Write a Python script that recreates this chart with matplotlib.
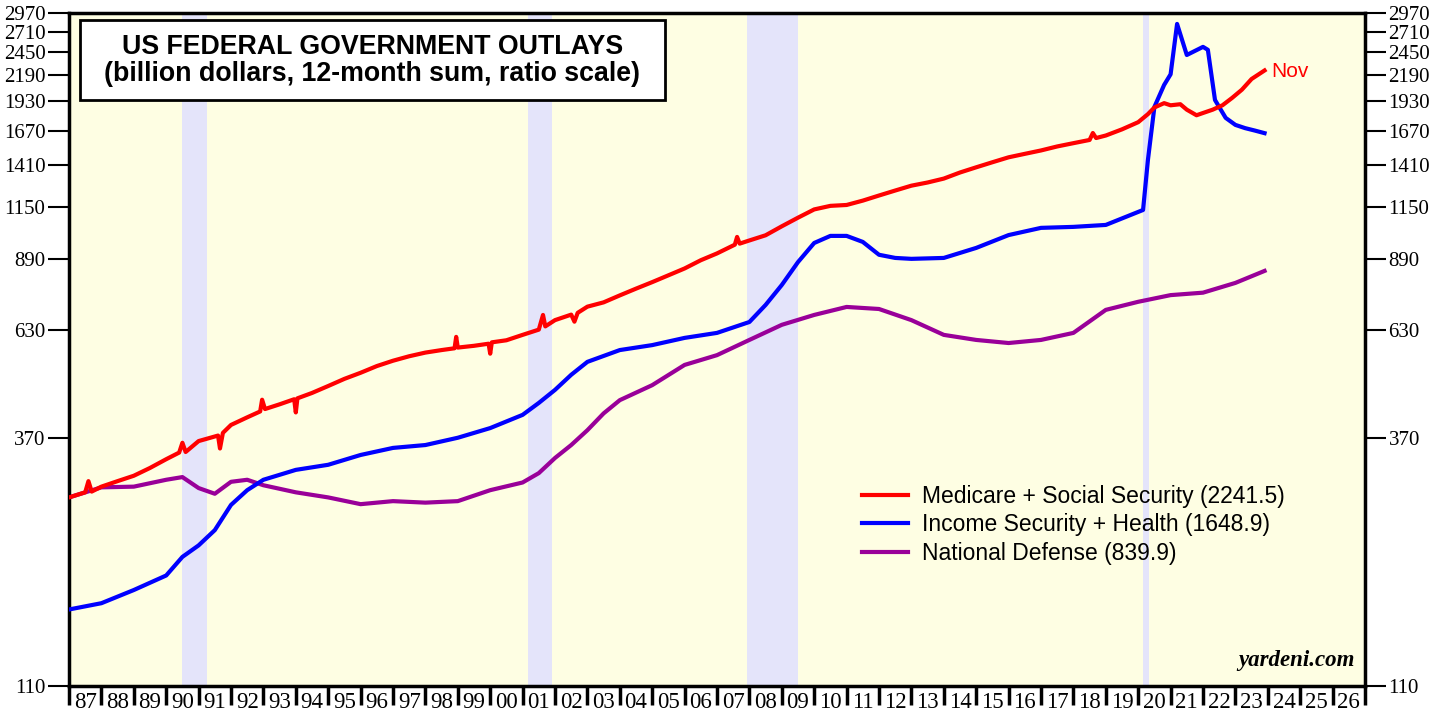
# US federal government outlays, ratio scale (yardeni style)

import matplotlib
matplotlib.use("Agg")
import matplotlib.pyplot as plt
import matplotlib.ticker as mticker
from matplotlib.patches import Rectangle

# --- data (billion dollars, 12-month sum) ---
red_x = [1987.0, 1987.5, 1987.6, 1987.7, 1988.0, 1988.5, 1989.0, 1989.5, 1990.0, 1990.4,
         1990.5, 1990.6, 1991.0, 1991.6, 1991.66, 1991.75, 1992.0, 1992.5, 1992.9, 1992.96,
         1993.05, 1993.5, 1993.95, 1994.0, 1994.05, 1994.5, 1995.0, 1995.5, 1996.0, 1996.5,
         1997.0, 1997.5, 1998.0, 1998.5, 1998.9, 1998.95, 1999.0, 1999.5, 1999.95, 2000.0,
         2000.05, 2000.5, 2001.0, 2001.5, 2001.63, 2001.7, 2002.0, 2002.5, 2002.6, 2002.7,
         2003.0, 2003.5, 2004.0, 2004.5, 2005.0, 2005.5, 2006.0, 2006.5, 2007.0, 2007.55,
         2007.62, 2007.7, 2008.0, 2008.5, 2009.0, 2009.5, 2010.0, 2010.5, 2011.0, 2011.5,
         2012.0, 2012.5, 2013.0, 2013.5, 2014.0, 2014.5, 2015.0, 2015.5, 2016.0, 2016.5,
         2017.0, 2017.5, 2018.0, 2018.5, 2018.6, 2018.7, 2019.0, 2019.5, 2020.0, 2020.3,
         2020.5, 2020.8, 2021.0, 2021.3, 2021.5, 2021.8, 2022.0, 2022.3, 2022.6, 2022.9,
         2023.2, 2023.5, 2023.9]
red_y = [277, 284, 300, 285, 292, 300, 308, 320, 334, 345,
         362, 346, 365, 375, 352, 380, 395, 410, 422, 447,
         427, 437, 448, 420, 450, 462, 478, 495, 510, 527,
         541, 553, 563, 570, 575, 608, 577, 582, 588, 560,
         592, 598, 614, 630, 677, 640, 660, 678, 655, 684,
         705, 720, 745, 770, 795, 822, 850, 885, 915, 955,
         992, 960, 975, 1000, 1045, 1090, 1135, 1155, 1160, 1185,
         1215, 1245, 1275, 1295, 1320, 1360, 1395, 1430, 1465, 1490,
         1515, 1545, 1570, 1595, 1650, 1610, 1630, 1680, 1740, 1810,
         1870, 1910, 1890, 1900, 1850, 1800, 1820, 1850, 1890, 1960,
         2040, 2150, 2241.5]

blue_x = [1987.0, 1988.0, 1989.0, 1990.0, 1990.5, 1991.0, 1991.5, 1992.0, 1992.5, 1993.0,
          1994.0, 1995.0, 1996.0, 1997.0, 1998.0, 1999.0, 2000.0, 2001.0, 2001.5, 2002.0,
          2002.5, 2003.0, 2004.0, 2005.0, 2006.0, 2007.0, 2008.0, 2008.5, 2009.0, 2009.5,
          2010.0, 2010.5, 2011.0, 2011.5, 2012.0, 2012.5, 2013.0, 2014.0, 2015.0, 2016.0,
          2017.0, 2018.0, 2019.0, 2020.15, 2020.3, 2020.5, 2020.8, 2021.0, 2021.2, 2021.5,
          2022.0, 2022.15, 2022.37, 2022.7, 2023.0, 2023.3, 2023.6, 2023.9]
blue_y = [160, 165, 176, 189, 207, 219, 236, 267, 287, 302,
          317, 325, 341, 353, 358, 371, 389, 415, 440, 469,
          505, 538, 570, 584, 605, 620, 654, 711, 784, 877,
          963, 997, 997, 968, 909, 895, 891, 895, 940, 1001,
          1037, 1042, 1052, 1132, 1446, 1875, 2088, 2200, 2815, 2418,
          2516, 2480, 1940, 1777, 1717, 1690, 1670, 1648.9]

purple_x = [1987.0, 1988.0, 1989.0, 1990.0, 1990.5, 1991.0, 1991.5, 1992.0, 1992.5, 1993.0,
            1994.0, 1995.0, 1996.0, 1997.0, 1998.0, 1999.0, 2000.0, 2001.0, 2001.5, 2002.0,
            2002.5, 2003.0, 2003.5, 2004.0, 2005.0, 2006.0, 2007.0, 2008.0, 2009.0, 2010.0,
            2011.0, 2012.0, 2013.0, 2014.0, 2015.0, 2016.0, 2017.0, 2018.0, 2019.0, 2020.0,
            2021.0, 2022.0, 2023.0, 2023.9]
purple_y = [277, 291, 292, 302, 306, 290, 282, 299, 302, 294,
            284, 277, 268, 272, 270, 272, 287, 298, 312, 336,
            358, 385, 418, 446, 480, 530, 556, 599, 645, 677,
            704, 697, 660, 614, 599, 590, 599, 620, 694, 722,
            746, 755, 792, 839.9]

series_names = ["Medicare + Social Security (2241.5)",
                "Income Security + Health (1648.9)",
                "National Defense (839.9)"]

recessions = [(1990.5, 1991.25), (2001.17, 2001.92), (2007.92, 2009.5), (2020.15, 2020.33)]
ytick_vals = [110, 370, 630, 890, 1150, 1410, 1670, 1930, 2190, 2450, 2710, 2970]
years = list(range(1987, 2027))

# --- figure ---
fig = plt.figure(figsize=(14.4, 7.17), dpi=100)
ax = fig.add_axes([69 / 1440, 31 / 717, 1296 / 1440, 673 / 717])
ax.set_facecolor("#fefee3")

for a, b in recessions:
    ax.axvspan(a, b, color="#e4e4fa", lw=0, zorder=1)

ax.plot(red_x, red_y, color="#ff0000", lw=3, zorder=4, label=series_names[0])
ax.plot(blue_x, blue_y, color="#0000ff", lw=3, zorder=3, label=series_names[1])
ax.plot(purple_x, purple_y, color="#990099", lw=3, zorder=2, label=series_names[2])

ax.set_yscale("log")
ax.set_ylim(110, 2970)
ax.set_xlim(1987, 2027)

# y ticks on both sides
ax.yaxis.set_major_locator(mticker.FixedLocator(ytick_vals))
ax.yaxis.set_minor_locator(mticker.NullLocator())
ax.yaxis.set_major_formatter(mticker.FuncFormatter(lambda v, p: f"{v:.0f}"))
ax.tick_params(axis="y", which="major", direction="out", length=15, width=1.5,
               left=True, right=True, labelleft=True, labelright=True, pad=2)
for lab in ax.get_yticklabels():
    lab.set_fontfamily("Liberation Serif")
    lab.set_fontsize(15)

# x ticks: year boundaries, labels centred in the year
ax.xaxis.set_major_locator(mticker.FixedLocator(years + [2027]))
ax.xaxis.set_major_formatter(mticker.NullFormatter())
ax.xaxis.set_minor_locator(mticker.FixedLocator([y + 0.5 for y in years]))
ax.xaxis.set_minor_formatter(mticker.FixedFormatter([f"{y % 100:02d}" for y in years]))
ax.tick_params(axis="x", which="major", direction="out", length=14, width=2.5)
ax.tick_params(axis="x", which="minor", length=0, pad=4)
for lab in ax.get_xticklabels(minor=True):
    lab.set_fontfamily("Liberation Serif")
    lab.set_fontsize(16.5)

for s in ax.spines.values():
    s.set_linewidth(2.5)

# title box
ax.add_patch(Rectangle((0.0085, 0.8707), 0.4514, 0.1189, transform=ax.transAxes,
                       fc="white", ec="black", lw=2, zorder=5))
ax.text(0.234, 0.930, "US FEDERAL GOVERNMENT OUTLAYS\n(billion dollars, 12-month sum, ratio scale)",
        transform=ax.transAxes, ha="center", va="center", fontsize=19.3, fontweight="bold",
        family="Liberation Sans", linespacing=1.05, zorder=6)

ax.text(2024.1, 2235, "Nov", color="#ff0000", fontsize=15, family="Liberation Sans",
        ha="left", va="center", zorder=6)

ax.text(0.992, 0.022, "yardeni.com", transform=ax.transAxes, ha="right", va="bottom",
        fontsize=16.5, fontweight="bold", fontstyle="italic", family="Liberation Serif", zorder=6)

leg = ax.legend(loc="upper left", bbox_to_anchor=(0.596, 0.33), frameon=False,
                prop={"family": "Liberation Sans", "size": 16.5}, handlelength=2.0,
                handletextpad=0.6, labelspacing=0.25)

fig.savefig("out.png", dpi=100)
